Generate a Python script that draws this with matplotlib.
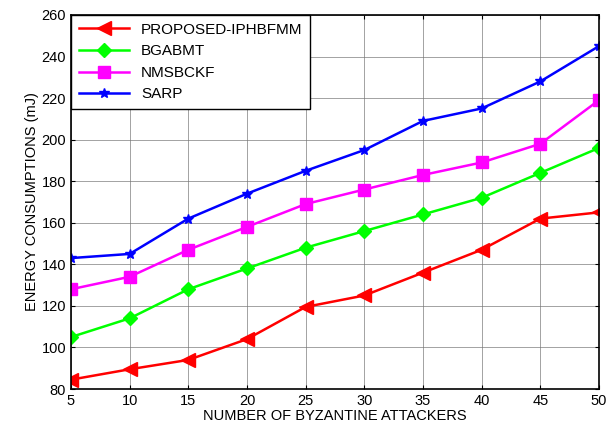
import matplotlib
matplotlib.use('Agg')
import matplotlib.pyplot as plt

plt.rcParams['font.family'] = ['Liberation Sans', 'DejaVu Sans']

attackers = [5, 10, 15, 20, 25, 30, 35, 40, 45, 50]
proposed = [84.5, 89.5, 94, 104, 119.5, 125, 136, 147, 162, 165]
bgabmt = [105, 114, 128, 138, 148, 156, 164, 172, 184, 196]
nmsbckf = [128, 134, 147, 158, 169, 176, 183, 189, 198, 219]
sarp = [143, 145, 162, 174, 185, 195, 209, 215, 228, 245]

fig = plt.figure(figsize=(6.15, 4.28), dpi=100)
ax = fig.add_axes([0.1154, 0.0911, 0.8586, 0.874])

ax.plot(attackers, proposed, color='red', marker='<', markersize=10, lw=1.8, label='PROPOSED-IPHBFMM')
ax.plot(attackers, bgabmt, color='#00ff00', marker='D', markersize=7, lw=1.8, label='BGABMT')
ax.plot(attackers, nmsbckf, color='magenta', marker='s', markersize=8, lw=1.8, label='NMSBCKF')
ax.plot(attackers, sarp, color='blue', marker='*', markersize=7, lw=1.8, label='SARP')

ax.set_xlim(5, 50)
ax.set_ylim(80, 260)
ax.set_xticks(attackers)
ax.set_yticks(range(80, 261, 20))
ax.grid(True, color='#777777', linestyle='-', linewidth=0.6, alpha=0.8)
ax.tick_params(direction='in', top=True, right=True, labelsize=10.5, length=3)
for s in ax.spines.values():
    s.set_linewidth(1.2)

ax.set_xlabel('NUMBER OF BYZANTINE ATTACKERS', fontsize=10.5, labelpad=1)
ax.set_ylabel('ENERGY CONSUMPTIONS (mJ)', fontsize=10.5, labelpad=2)

leg = ax.legend(loc='upper left', fontsize=11, fancybox=False, edgecolor='black',
                framealpha=1, borderaxespad=0, handlelength=3.3, labelspacing=0.5,
                borderpad=0.5)
leg.get_frame().set_linewidth(1.0)

fig.savefig('out.png', dpi=100)
